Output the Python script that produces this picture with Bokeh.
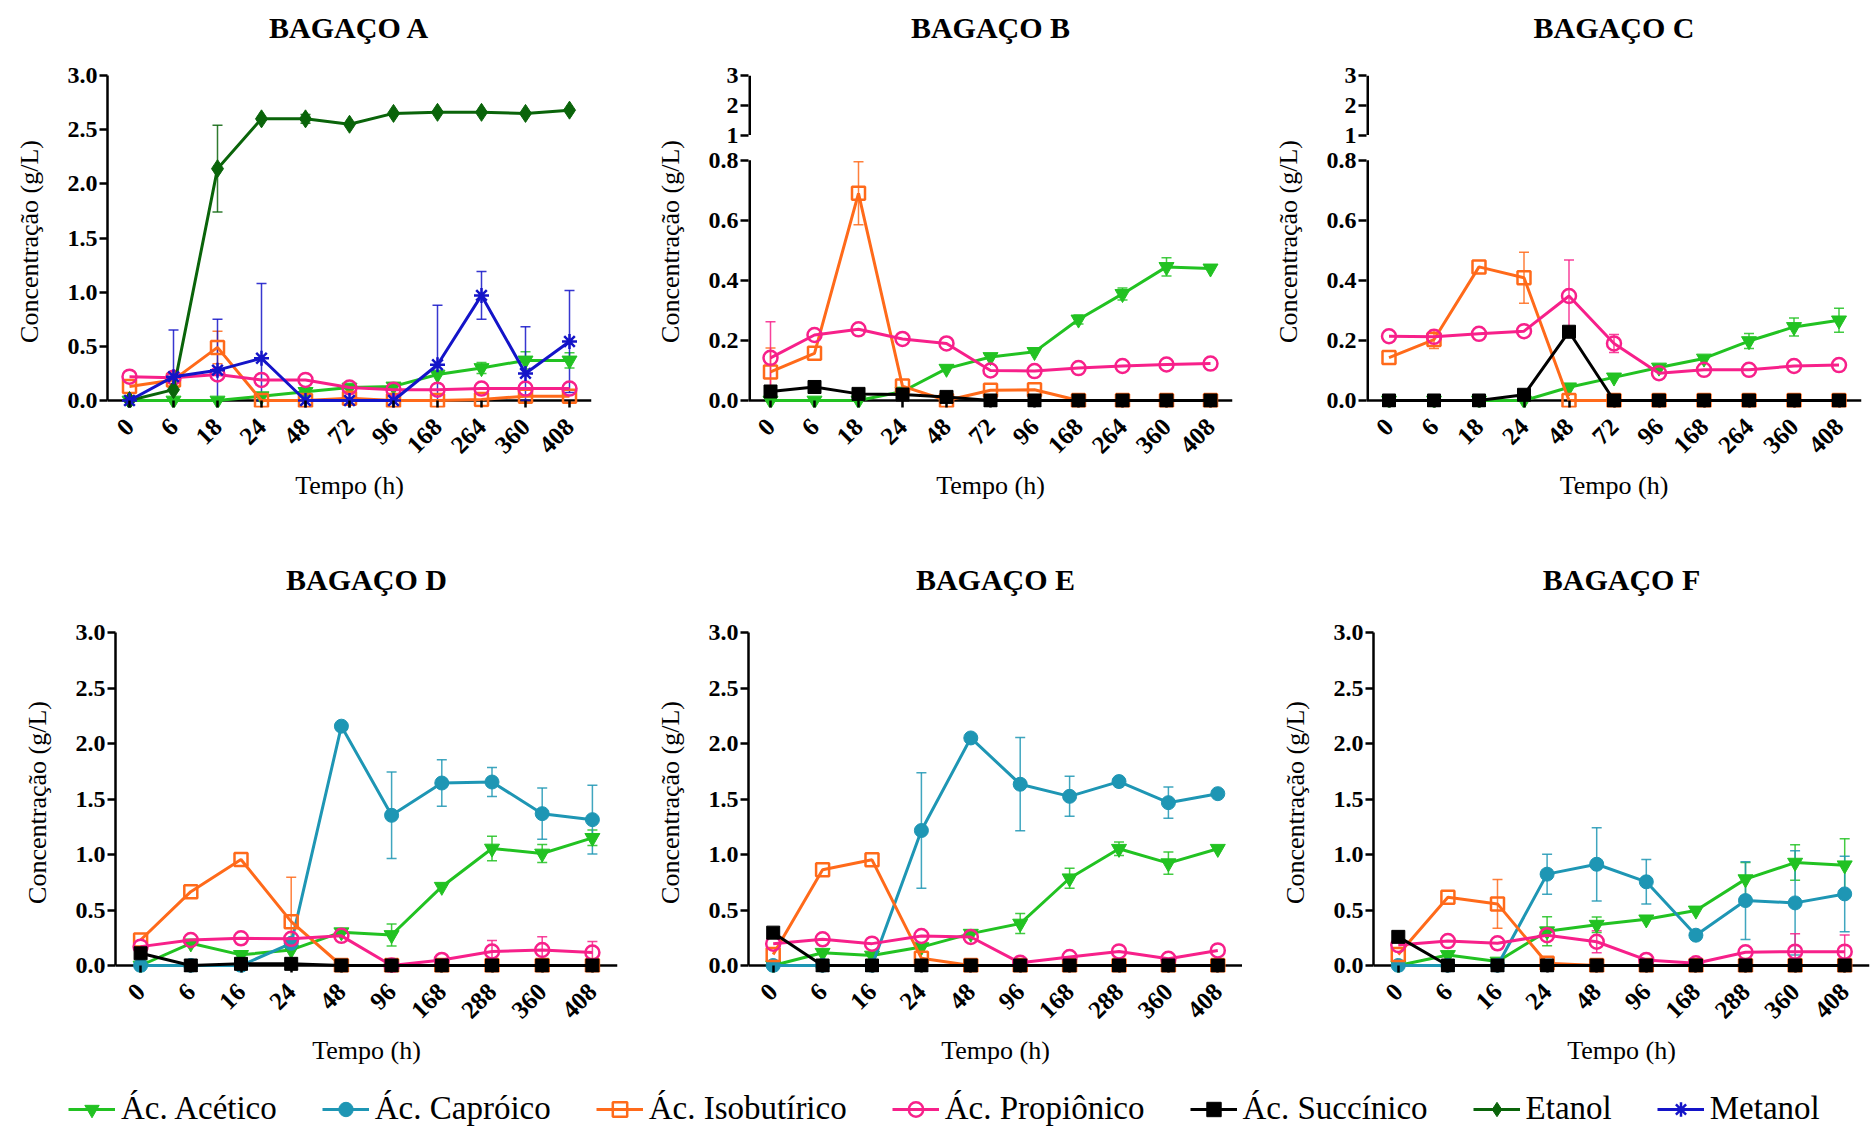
import math
from bokeh.plotting import figure
from bokeh.layouts import row, column
from bokeh.models import (FactorRange, Range1d, LinearAxis, CategoricalAxis, FixedTicker,
                          PrintfTickFormatter, Whisker, TeeHead, ColumnDataSource,
                          Legend, LegendItem, Span, Title)
from bokeh.embed import file_html
from bokeh.resources import INLINE

FONT = "Liberation Serif"

# ---------------- data ----------------
TIMES_ABC = ["0", "6", "18", "24", "48", "72", "96", "168", "264", "360", "408"]
TIMES_DEF = ["0", "6", "16", "24", "48", "96", "168", "288", "360", "408"]

Y_TICKS = [0.0, 0.5, 1.0, 1.5, 2.0, 2.5, 3.0]
Y_TICKS_LOW = [0.0, 0.2, 0.4, 0.6, 0.8]
Y_TICKS_HIGH = [1, 2, 3]

# Bagaço A
A_ACETICO = [0.0, 0.0, 0.0, 0.04, 0.08, 0.12, 0.13, 0.24, 0.30, 0.37, 0.37]
A_ACETICO_SD = [0, 0, 0, 0, 0, 0, 0, 0, 0.05, 0.08, 0.07]
A_ISOBUT = [0.13, 0.19, 0.49, 0.0, 0.0, 0.02, 0.0, 0.0, 0.01, 0.04, 0.04]
A_ISOBUT_SD = [0, 0, 0.15, 0, 0, 0, 0, 0, 0, 0, 0]
A_PROPI = [0.22, 0.21, 0.24, 0.19, 0.19, 0.12, 0.10, 0.10, 0.11, 0.11, 0.11]
A_PROPI_SD = [0] * 11
A_ETANOL = [0.0, 0.10, 2.14, 2.60, 2.60, 2.55, 2.65, 2.66, 2.66, 2.65, 2.68]
A_ETANOL_SD = [0, 0, 0.40, 0, 0.04, 0, 0, 0, 0, 0, 0]
A_METANOL = [0.0, 0.22, 0.28, 0.39, 0.0, 0.0, 0.0, 0.33, 0.97, 0.25, 0.545]
A_METANOL_SD = [0, 0.43, 0.47, 0.69, 0, 0, 0, 0.55, 0.22, 0.43, 0.47]

# Bagaço B
B_ACETICO = [0.0, 0.0, 0.0, 0.03, 0.106, 0.145, 0.162, 0.27, 0.355, 0.445, 0.44]
B_ACETICO_SD = [0, 0, 0, 0, 0, 0, 0, 0.015, 0.02, 0.03, 0]
B_ISOBUT = [0.095, 0.157, 0.69, 0.048, 0.0, 0.034, 0.036, 0.0, 0.0, 0.0, 0.0]
B_ISOBUT_SD = [0.08, 0, 0.105, 0, 0, 0, 0, 0, 0, 0, 0]
B_PROPI = [0.142, 0.218, 0.237, 0.205, 0.19, 0.10, 0.098, 0.108, 0.115, 0.12, 0.123]
B_PROPI_SD = [0.12, 0, 0, 0, 0, 0, 0, 0, 0, 0, 0]
B_SUCC = [0.03, 0.045, 0.022, 0.02, 0.012, 0.0, 0.0, 0.0, 0.0, 0.0, 0.0]
B_SUCC_SD = [0] * 11

# Bagaço C
C_ACETICO = [0.0, 0.0, 0.0, 0.0, 0.044, 0.077, 0.11, 0.14, 0.198, 0.245, 0.267]
C_ACETICO_SD = [0, 0, 0, 0, 0, 0, 0, 0, 0.025, 0.03, 0.04]
C_ISOBUT = [0.143, 0.203, 0.445, 0.409, 0.0, 0.0, 0.0, 0.0, 0.0, 0.0, 0.0]
C_ISOBUT_SD = [0, 0.03, 0, 0.085, 0, 0, 0, 0, 0, 0, 0]
C_PROPI = [0.214, 0.212, 0.222, 0.231, 0.348, 0.19, 0.091, 0.102, 0.102, 0.115, 0.118]
C_PROPI_SD = [0, 0, 0, 0, 0.12, 0.03, 0, 0, 0, 0, 0]
C_SUCC = [0.0, 0.0, 0.0, 0.019, 0.229, 0.0, 0.0, 0.0, 0.0, 0.0, 0.0]
C_SUCC_SD = [0] * 11

# Bagaço D
D_ACETICO = [0.0, 0.2, 0.096, 0.14, 0.30, 0.275, 0.71, 1.054, 1.009, 1.15]
D_ACETICO_SD = [0, 0, 0, 0, 0, 0.10, 0, 0.11, 0.08, 0.07]
D_CAPROICO = [0.0, 0.0, 0.0, 0.2, 2.156, 1.353, 1.644, 1.653, 1.368, 1.314]
D_CAPROICO_SD = [0, 0, 0, 0, 0, 0.39, 0.21, 0.13, 0.23, 0.31]
D_ISOBUT = [0.23, 0.665, 0.955, 0.395, 0.0, 0.0, 0.0, 0.0, 0.0, 0.0]
D_ISOBUT_SD = [0, 0, 0, 0.40, 0, 0, 0, 0, 0, 0]
D_PROPI = [0.17, 0.23, 0.245, 0.24, 0.267, 0.0, 0.05, 0.126, 0.14, 0.117]
D_PROPI_SD = [0, 0, 0, 0, 0, 0, 0, 0.10, 0.12, 0.10]
D_SUCC = [0.11, 0.0, 0.015, 0.015, 0.0, 0.0, 0.0, 0.0, 0.0, 0.0]
D_SUCC_SD = [0] * 10

# Bagaço E
E_ACETICO = [0.0, 0.115, 0.09, 0.166, 0.287, 0.378, 0.786, 1.052, 0.922, 1.052]
E_ACETICO_SD = [0, 0, 0, 0, 0, 0.09, 0.09, 0.06, 0.10, 0]
E_CAPROICO = [0.0, 0.0, 0.0, 1.216, 2.05, 1.633, 1.524, 1.657, 1.467, 1.548]
E_CAPROICO_SD = [0, 0, 0, 0.52, 0, 0.42, 0.18, 0, 0.14, 0]
E_ISOBUT = [0.10, 0.862, 0.952, 0.066, 0.0, 0.0, 0.0, 0.0, 0.0, 0.0]
E_ISOBUT_SD = [0] * 10
E_PROPI = [0.197, 0.236, 0.197, 0.266, 0.257, 0.024, 0.076, 0.127, 0.06, 0.136]
E_PROPI_SD = [0] * 10
E_SUCC = [0.296, 0.0, 0.0, 0.0, 0.0, 0.0, 0.0, 0.0, 0.0, 0.0]
E_SUCC_SD = [0] * 10

# Bagaço F
F_ACETICO = [0.0, 0.095, 0.036, 0.309, 0.368, 0.416, 0.496, 0.778, 0.927, 0.903]
F_ACETICO_SD = [0, 0, 0, 0.13, 0.07, 0, 0, 0.15, 0.16, 0.24]
F_CAPROICO = [0.0, 0.0, 0.0, 0.823, 0.912, 0.754, 0.273, 0.585, 0.564, 0.645]
F_CAPROICO_SD = [0, 0, 0, 0.18, 0.33, 0.20, 0, 0.35, 0.47, 0.34]
F_ISOBUT = [0.10, 0.615, 0.555, 0.02, 0.0, 0.0, 0.0, 0.0, 0.0, 0.0]
F_ISOBUT_SD = [0, 0, 0.22, 0, 0, 0, 0, 0, 0, 0]
F_PROPI = [0.184, 0.22, 0.20, 0.273, 0.214, 0.05, 0.02, 0.119, 0.125, 0.125]
F_PROPI_SD = [0, 0, 0, 0, 0.10, 0, 0, 0, 0.16, 0.15]
F_SUCC = [0.258, 0.0, 0.0, 0.0, 0.0, 0.0, 0.0, 0.0, 0.0, 0.0]
F_SUCC_SD = [0] * 10

# ---------------- styles ----------------
STYLE = {
    "acetico":  dict(label="Ác. Acético",     color="#22C222", marker="inverted_triangle", filled=True,  size=15),
    "caproico": dict(label="Ác. Capróico",    color="#1E96B4", marker="circle",            filled=True,  size=14),
    "isobut":   dict(label="Ác. Isobutírico", color="#FF6A1A", marker="square",            filled=False, size=13),
    "propi":    dict(label="Ác. Propiônico",  color="#F7208A", marker="circle",            filled=False, size=14),
    "succ":     dict(label="Ác. Succínico",   color="#000000", marker="square",            filled=True,  size=13),
    "etanol":   dict(label="Etanol",          color="#0A640A", marker="diamond",           filled=True,  size=18),
    "metanol":  dict(label="Metanol",         color="#1414C8", marker="asterisk",          filled=False, size=15),
}
ORDER = ["acetico", "caproico", "isobut", "propi", "succ", "etanol", "metanol"]

PANELS = [
    dict(title="BAGAÇO A", times=TIMES_ABC, broken=False,
         series={"acetico": (A_ACETICO, A_ACETICO_SD), "isobut": (A_ISOBUT, A_ISOBUT_SD),
                 "propi": (A_PROPI, A_PROPI_SD), "etanol": (A_ETANOL, A_ETANOL_SD),
                 "metanol": (A_METANOL, A_METANOL_SD)}),
    dict(title="BAGAÇO B", times=TIMES_ABC, broken=True,
         series={"acetico": (B_ACETICO, B_ACETICO_SD), "isobut": (B_ISOBUT, B_ISOBUT_SD),
                 "propi": (B_PROPI, B_PROPI_SD), "succ": (B_SUCC, B_SUCC_SD)}),
    dict(title="BAGAÇO C", times=TIMES_ABC, broken=True,
         series={"acetico": (C_ACETICO, C_ACETICO_SD), "isobut": (C_ISOBUT, C_ISOBUT_SD),
                 "propi": (C_PROPI, C_PROPI_SD), "succ": (C_SUCC, C_SUCC_SD)}),
    dict(title="BAGAÇO D", times=TIMES_DEF, broken=False,
         series={"acetico": (D_ACETICO, D_ACETICO_SD), "caproico": (D_CAPROICO, D_CAPROICO_SD),
                 "isobut": (D_ISOBUT, D_ISOBUT_SD), "propi": (D_PROPI, D_PROPI_SD),
                 "succ": (D_SUCC, D_SUCC_SD)}),
    dict(title="BAGAÇO E", times=TIMES_DEF, broken=False,
         series={"acetico": (E_ACETICO, E_ACETICO_SD), "caproico": (E_CAPROICO, E_CAPROICO_SD),
                 "isobut": (E_ISOBUT, E_ISOBUT_SD), "propi": (E_PROPI, E_PROPI_SD),
                 "succ": (E_SUCC, E_SUCC_SD)}),
    dict(title="BAGAÇO F", times=TIMES_DEF, broken=False,
         series={"acetico": (F_ACETICO, F_ACETICO_SD), "caproico": (F_CAPROICO, F_CAPROICO_SD),
                 "isobut": (F_ISOBUT, F_ISOBUT_SD), "propi": (F_PROPI, F_PROPI_SD),
                 "succ": (F_SUCC, F_SUCC_SD)}),
]

# layout geometry (pixels): left border, frame width, right border
GEOM = [(107, 484, 29), (128, 484, 8), (126, 495, 9),
        (115, 502, 3), (128, 494, 0), (131, 496, 1)]
ROW_H = 540
# top border, frame height, bottom border, spacer font size (title position)
ROW_BORDERS = [(75, 332, 133, 27), (92, 340, 108, 31)]
ZERO_GAP_PX = 7   # distance between the zero line and the frame bottom

# broken-axis geometry (in lower-segment units)
BREAK_START = 0.884      # where value 1 sits
UPPER_STEP = 0.0992      # lower-units per upper unit
BROKEN_TOP = BREAK_START + UPPER_STEP * (Y_TICKS_HIGH[-1] - Y_TICKS_HIGH[0])


def style_axis(ax, label_standoff=20):
    ax.axis_line_width = 2.5
    ax.axis_line_color = "black"
    ax.major_tick_line_width = 2.5
    ax.major_tick_line_color = "black"
    ax.major_tick_out = 8
    ax.major_tick_in = 0
    ax.minor_tick_out = 0
    ax.minor_tick_in = 0
    ax.major_label_text_font = FONT
    ax.major_label_text_font_style = "bold"
    ax.major_label_text_font_size = "24px"
    ax.major_label_text_color = "black"
    ax.major_label_standoff = 2
    ax.axis_label_text_font = FONT
    ax.axis_label_text_font_style = "normal"
    ax.axis_label_text_font_size = "26px"
    ax.axis_label_text_color = "black"
    ax.axis_label_standoff = label_standoff


def add_series(p, times, vals, sds, key):
    st = STYLE[key]
    c = st["color"]
    src = ColumnDataSource(dict(t=list(times), v=list(vals)))
    err_t, err_lo, err_hi = [], [], []
    for t, v, s in zip(times, vals, sds):
        if s > 0:
            err_t.append(t)
            err_lo.append(max(0.0, v - s))
            err_hi.append(v + s)
    if err_t:
        esrc = ColumnDataSource(dict(t=err_t, lo=err_lo, hi=err_hi))
        w = Whisker(base="t", lower="lo", upper="hi", source=esrc, dimension="height",
                    level="underlay", line_color=c, line_width=1.5, line_alpha=0.85,
                    upper_head=TeeHead(size=10, line_color=c, line_width=1.5, line_alpha=0.85),
                    lower_head=TeeHead(size=10, line_color=c, line_width=1.5, line_alpha=0.85))
        p.add_layout(w)
    p.line("t", "v", source=src, line_color=c, line_width=3)
    p.scatter("t", "v", source=src, marker=st["marker"], size=st["size"], line_color=c,
              fill_color=(c if st["filled"] else None),
              line_width=(1.0 if st["filled"] else 2.5))


def make_panel(i, panel):
    bl, fw, br = GEOM[i]
    bt, fh, bb, spacer = ROW_BORDERS[i // 3]
    if panel["broken"]:
        y_end = BROKEN_TOP
        units_per_px = (BROKEN_TOP + 0.0243) / fh
    else:
        y_end = Y_TICKS[-1]
        units_per_px = y_end / (fh - ZERO_GAP_PX)
    y_start = -ZERO_GAP_PX * units_per_px
    p = figure(x_range=FactorRange(factors=panel["times"]),
               y_range=Range1d(y_start, y_end),
               width=bl + fw + br, height=ROW_H,
               min_border_left=bl, min_border_right=br,
               min_border_top=bt, min_border_bottom=bb,
               x_axis_type=None, y_axis_type=None, title=None,
               output_backend="svg", toolbar_location=None)
    p.outline_line_color = None
    p.background_fill_color = "white"
    p.border_fill_color = "white"
    # spacer (closest to the frame), then the title
    p.add_layout(Title(text=" ", text_font=FONT, text_font_size=f"{spacer}px", standoff=0), "above")
    p.add_layout(Title(text=panel["title"], align="center", text_font=FONT,
                       text_font_size="30px", text_font_style="bold", text_color="black",
                       standoff=0), "above")

    if panel["broken"]:
        upper_pos = [BREAK_START + (u - Y_TICKS_HIGH[0]) * UPPER_STEP for u in Y_TICKS_HIGH]
        overrides = {pos: str(u) for pos, u in zip(upper_pos, Y_TICKS_HIGH)}
        yax = LinearAxis(bounds=(0, y_end),
                         ticker=FixedTicker(ticks=Y_TICKS_LOW + upper_pos, minor_ticks=[]),
                         formatter=PrintfTickFormatter(format="%.1f"),
                         major_label_overrides=overrides,
                         axis_label="Concentração (g/L)")
        style_axis(yax, 21)
        yax.axis_line_color = None
        p.add_layout(yax, "left")
        # the two segments of the broken axis line
        p.segment(x0=[0, 0], x1=[0, 0],
                  y0=[Y_TICKS_LOW[0], upper_pos[0]], y1=[Y_TICKS_LOW[-1], upper_pos[-1]],
                  line_color="black", line_width=5)
    else:
        yax = LinearAxis(bounds=(0, Y_TICKS[-1]), ticker=FixedTicker(ticks=Y_TICKS, minor_ticks=[]),
                         formatter=PrintfTickFormatter(format="%.1f"),
                         axis_label="Concentração (g/L)")
        style_axis(yax, 21)
        p.add_layout(yax, "left")

    xax = CategoricalAxis(axis_label="Tempo (h)", major_label_orientation=math.pi / 4)
    style_axis(xax, 7)
    xax.axis_line_color = None
    xax.major_tick_in = ZERO_GAP_PX
    xax.major_tick_out = 0
    xax.major_label_standoff = 15
    xax.major_label_text_font_size = "25px"
    p.add_layout(xax, "below")
    p.add_layout(Span(location=0, dimension="width", line_color="black", line_width=2.5,
                      level="underlay"))

    for key in ORDER:
        if key in panel["series"]:
            vals, sds = panel["series"][key]
            add_series(p, panel["times"], vals, sds, key)
    return p


figs = [make_panel(i, pn) for i, pn in enumerate(PANELS)]

# legend strip (legend proxies carry NaN data so nothing is drawn in the strip itself)
NAN = float("nan")
lf = figure(width=1870, height=46, x_range=Range1d(0, 1), y_range=Range1d(0, 1),
            x_axis_type=None, y_axis_type=None, min_border=0,
            output_backend="svg", toolbar_location=None)
lf.outline_line_color = None
items = []
for key in ORDER:
    st = STYLE[key]
    r1 = lf.line(x=[NAN], y=[NAN], line_color=st["color"], line_width=3)
    r2 = lf.scatter(x=[NAN], y=[NAN], marker=st["marker"], size=st["size"], line_color=st["color"],
                    fill_color=(st["color"] if st["filled"] else None),
                    line_width=(1.0 if st["filled"] else 2.5))
    items.append(LegendItem(label=st["label"], renderers=[r1, r2]))
leg = Legend(items=items, orientation="horizontal", location=(68, -1),
             label_text_font=FONT, label_text_font_size="33px", label_text_color="black",
             glyph_width=47, glyph_height=36, label_standoff=6, spacing=45,
             padding=0, margin=0, border_line_color=None, background_fill_alpha=0)
lf.add_layout(leg, "center")

layout = column(row(*figs[:3]), row(*figs[3:]), lf)

with open("out.html", "w") as f:
    f.write(file_html(layout, INLINE))
